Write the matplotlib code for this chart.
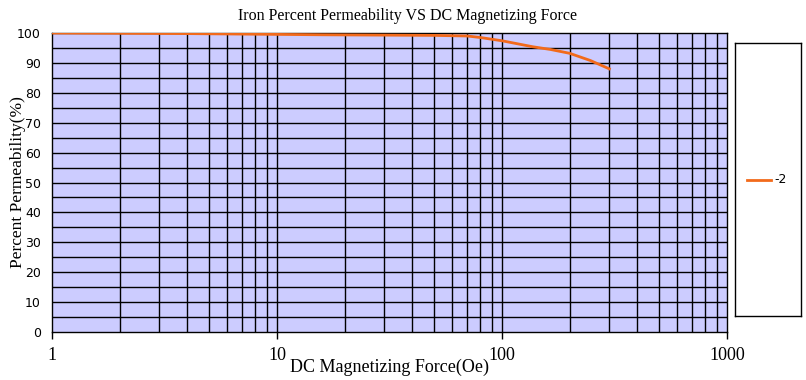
import matplotlib
matplotlib.use('Agg')
import matplotlib.pyplot as plt
from matplotlib.lines import Line2D
import numpy as np

# DC magnetizing force (Oe) and percent permeability
force = [1, 4, 16, 50, 70, 80, 100, 137, 164, 200, 247, 300]
permeability = [100, 99.8, 99.4, 99.2, 99.0, 98.5, 97.4, 95.4, 94.5, 93.2, 90.8, 88.0]
series_name = '-2'

x_ticks = [1, 10, 100, 1000]
x_ticklabels = ['1', '10', '100', '1000']
y_ticks = list(range(0, 101, 10))

serif = 'Liberation Serif'
bg = '#ccccff'
line_color = '#f26a1b'

fig = plt.figure(figsize=(8.06, 3.80), dpi=100)
ax = fig.add_axes([52 / 806, 48 / 380, 675 / 806, 299 / 380])
ax.set_facecolor(bg)

ax.plot(force, permeability, color=line_color, lw=2, zorder=3)

ax.set_xscale('log')
ax.set_xlim(1, 1000)
ax.set_ylim(0, 100)

# grid: every 5 on y, log minor steps on x
for v in range(5, 100, 5):
    ax.axhline(v, color='black', lw=1, zorder=1)
for dec in [1, 10, 100]:
    for m in range(2, 10):
        ax.axvline(dec * m, color='black', lw=1, zorder=1)
    if dec > 1:
        ax.axvline(dec, color='black', lw=1, zorder=1)

ax.set_xticks(x_ticks)
ax.set_xticklabels(x_ticklabels, fontfamily=serif, fontsize=13)
ax.xaxis.set_minor_locator(matplotlib.ticker.NullLocator())
ax.tick_params(axis='x', length=5, pad=6, width=1)
ax.set_yticks(y_ticks)
ax.set_yticklabels([str(v) for v in y_ticks], fontfamily='DejaVu Sans', fontsize=9)
ax.tick_params(axis='y', length=0, pad=8)

for s in ax.spines.values():
    s.set_linewidth(1)

ax.set_title('Iron Percent Permeability VS DC Magnetizing Force',
             fontfamily=serif, fontsize=11.5, pad=9, x=0.526)
ax.set_xlabel('DC Magnetizing Force(Oe)', fontfamily=serif, fontsize=13, labelpad=-4)
fig.text(18 / 806, 1 - 182 / 380, 'Percent Permeability(%)', fontfamily=serif,
         fontsize=12.5, rotation=90, ha='center', va='center')

# legend box on the right
lax = fig.add_axes([735 / 806, 64 / 380, 66 / 806, 273 / 380])
lax.set_xticks([])
lax.set_yticks([])
lax.set_xlim(0, 1)
lax.set_ylim(0, 1)
for s in lax.spines.values():
    s.set_linewidth(1)
lax.add_line(Line2D([0.18, 0.55], [0.5, 0.5], color=line_color, lw=2))
lax.text(0.6, 0.5, series_name, fontfamily='DejaVu Sans', fontsize=9,
         va='center', ha='left')

fig.savefig('out.png', dpi=100)
